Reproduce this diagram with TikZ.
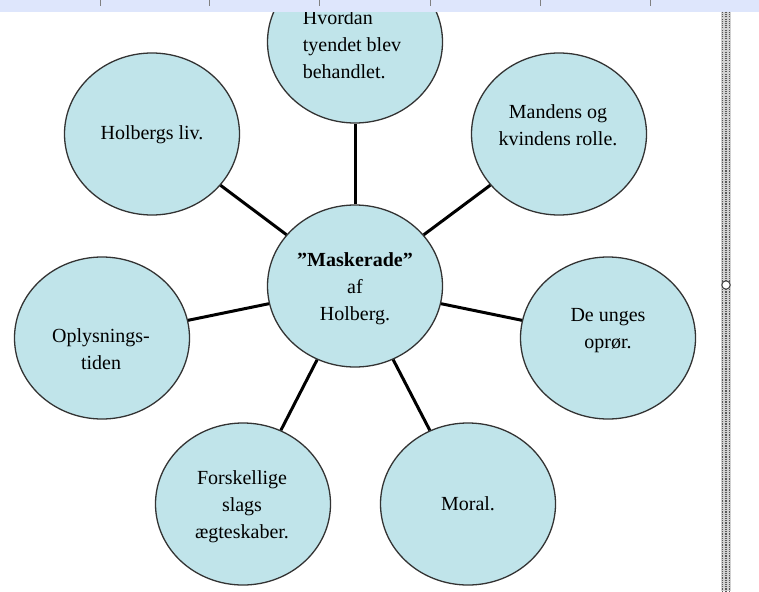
\documentclass[tikz,border=0pt]{standalone}
\usepackage{fontspec}
\setmainfont{Liberation Serif}
\newfontfamily\bubfont{Liberation Serif}
\usetikzlibrary{shapes.geometric}
\definecolor{bubfill}{RGB}{192,228,234}
\definecolor{barfill}{RGB}{222,230,252}
\begin{document}
\begin{tikzpicture}[x=1pt,y=-1pt,
  bub/.style={ellipse, draw=black!80, line width=1.3pt, fill=bubfill,
    minimum width=175pt, minimum height=162pt, inner sep=0pt},
  txt/.style={align=center, font=\bubfont\fontsize{20}{27}\selectfont, inner sep=0pt},
  link/.style={line width=3pt, black},
  dotcol/.style={black!65, line width=1.1pt, dash pattern=on 1.1pt off 1.1pt}]
\useasboundingbox (0,0) rectangle (759,591);
\clip (0,0) rectangle (759,591);
% bubbles
\node[bub] (ctr) at (355,286) {};
\node[bub] (top) at (355,42) {};
\node[bub] (hol) at (152,134) {};
\node[bub] (man) at (559,134) {};
\node[bub] (opl) at (102,338) {};
\node[bub] (deu) at (608,338) {};
\node[bub] (fors) at (243,504) {};
\node[bub] (mor) at (468,504) {};
% connectors
\foreach \n in {top,hol,man,opl,deu,fors,mor}
  \draw[link] (ctr) -- (\n);
% texts
\node[txt] (tctr) at (355,289) {\textbf{”Maskerade”}\\af\\Holberg.};
\node[txt, align=left] (ttop) at (352,45) {Hvordan\\tyendet blev\\behandlet.};
\node[txt] (thol) at (152,135) {Holbergs liv.};
\node[txt] (tman) at (558,125) {Mandens og\\kvindens rolle.};
\node[txt] (topl) at (101,349) {Oplysnings-\\tiden};
\node[txt] (tdeu) at (608,331) {De unges\\oprør.};
\node[txt] (tfors) at (242,507) {Forskellige\\slags\\ægteskaber.};
\node[txt] (tmor) at (468,504) {Moral.};
% top ruler bar
\fill[barfill] (0,0) rectangle (759,12);
\foreach \x in {100,209,319,430,540,650}
  \draw[black!50, line width=0.8pt] (\x,0) -- (\x,6);
% dotted selection frame at right
\fill[black!18] (721,12) rectangle (731,591);
\foreach \x in {722.3,726,729.7}
  \draw[dotcol] (\x,12) -- (\x,591);
\draw[black!75, fill=white, line width=1pt] (726,285) circle (4.2);
\end{tikzpicture}
\end{document}
